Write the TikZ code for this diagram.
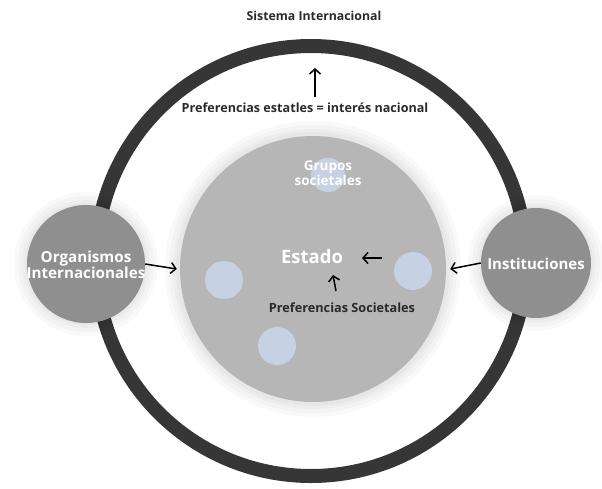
\documentclass[tikz,border=0pt]{standalone}
\usepackage{fontspec}
\setmainfont{Open Sans}
\usetikzlibrary{arrows.meta}
\definecolor{ringc}{HTML}{363636}
\definecolor{bigc}{HTML}{B6B6B6}
\definecolor{sidec}{HTML}{8F8F8F}
\definecolor{bluec}{HTML}{C6D1E4}
\definecolor{txtc}{HTML}{2A2A2A}
\tikzset{
  arr/.style={line width=1.5pt, draw=black, -{Straight Barb[length=5pt,width=11pt,line width=1.5pt]}},
  halo/.style={fill=black, fill opacity=0.025, draw=none},
  blob/.style={circle, fill=bluec, draw=none, inner sep=0pt},
  lbl/.style={font=\bfseries, text=txtc, inner sep=0pt},
  wlbl/.style={font=\bfseries, text=white, inner sep=0pt, align=center},
}
\begin{document}
\begin{tikzpicture}[x=1pt,y=-1pt]
\useasboundingbox (0,0) rectangle (602,488);
% outer ring
\draw[ringc, line width=14pt] (311,261) circle[radius=215];
% halo for big circle
\foreach \r in {148,144,140,137} {\fill[halo] (313,269) circle[radius=\r];}
\node[circle, fill=bigc, minimum size=266pt, inner sep=0pt] (big) at (313,269) {};
% blue blobs
\node[blob, minimum size=34pt] (b1) at (328,175) {};
\node[blob, minimum size=38pt] (b2) at (224,280) {};
\node[blob, minimum size=38pt] (b3) at (413,271) {};
\node[blob, minimum size=38pt] (b4) at (277,346) {};
% side circles with halos
\foreach \r in {72,68,64,61} {\fill[halo] (86,264) circle[radius=\r];}
\foreach \r in {68,64,60,57} {\fill[halo] (536,263) circle[radius=\r];}
\node[circle, fill=sidec, minimum size=118pt, inner sep=0pt] (org) at (86,264) {};
\node[circle, fill=sidec, minimum size=110pt, inner sep=0pt] (inst) at (536,263) {};
\node[wlbl, font=\fontsize{15.2}{16}\selectfont\bfseries] (orgt) at (86,265) {Organismos\\Internacionales};
\node[wlbl, font=\fontsize{15}{16}\selectfont\bfseries] (instt) at (536,264) {Instituciones};
% texts
\node[lbl, font=\fontsize{12.3}{14}\selectfont\bfseries] (sis) at (314,16) {Sistema Internacional};
\node[lbl, font=\fontsize{12.6}{14}\selectfont\bfseries] (pe) at (305,108) {Preferencias estatles = interés nacional};
\node[wlbl, font=\fontsize{13.5}{15}\selectfont\bfseries] (gs) at (328,173) {Grupos\\societales};
\node[wlbl, font=\fontsize{18.5}{20}\selectfont\bfseries] (est) at (312,257) {Estado};
\node[lbl, font=\fontsize{12.7}{14}\selectfont\bfseries] (ps) at (342,308) {Preferencias Societales};
% arrows
\coordinate (peTop) at (315,68);
\coordinate (peBot) at (315,97);
\draw[arr] (peBot) -- (peTop);
\coordinate (eaS) at (382,258);
\coordinate (eaE) at (362,258);
\draw[arr] (eaS) -- (eaE);
\coordinate (psS) at (336,291);
\coordinate (psE) at (333,275);
\draw[arr] (psS) -- (psE);
\draw[arr] (org.east) -- ([xshift=-3pt]big.west);
\draw[arr] (inst.west) -- ([xshift=4pt]big.east);
\end{tikzpicture}
\end{document}
